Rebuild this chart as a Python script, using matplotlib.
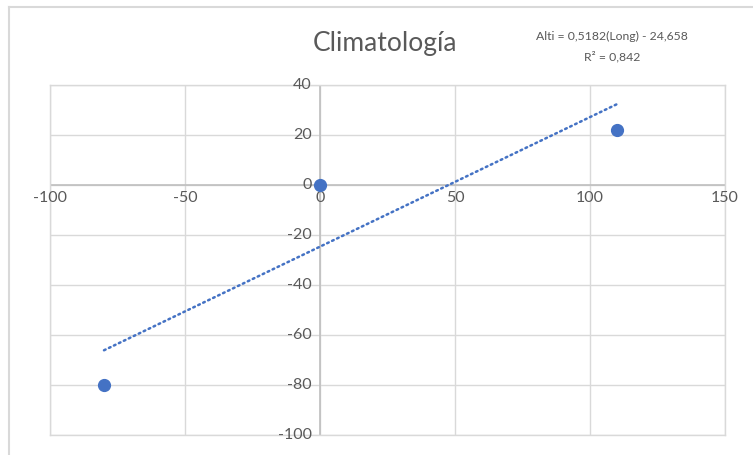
import numpy as np
import matplotlib.pyplot as plt
from matplotlib.lines import Line2D

# datos
longitud = [-80, 0, 110]
altitud = [-80, 0, 22]
pendiente = 0.5182
intercepto = -24.658
x_ticks = [-100, -50, 0, 50, 100, 150]
y_ticks = [-100, -80, -60, -40, -20, 0, 20, 40]

plt.rcParams['font.family'] = ['Lato', 'DejaVu Sans']

fig = plt.figure(figsize=(7.53, 4.55), dpi=100)
ax = fig.add_axes([50 / 753, 1 - 435 / 455, 675 / 753, 350 / 455])

azul = '#4472C4'
gris = '#595959'

# linea de tendencia
xt = np.array([min(longitud), max(longitud)])
ax.plot(xt, pendiente * xt + intercepto, color=azul, lw=1.8,
        linestyle=(0, (0.7, 1.5)), dash_capstyle='round', zorder=3)
ax.plot(longitud, altitud, 'o', color=azul, markersize=8.5, zorder=4)

ax.set_xlim(-100, 150)
ax.set_ylim(-100, 40)
ax.set_xticks(x_ticks)
ax.set_yticks(y_ticks)
ax.grid(True, color='#d9d9d9', lw=1)
ax.set_axisbelow(True)

# ejes cruzando en cero
for s in ['top', 'right', 'bottom', 'left']:
    ax.spines[s].set_color('#d9d9d9')
    ax.spines[s].set_linewidth(1)
ax.axhline(0, color='#bfbfbf', lw=1.2, zorder=2)
ax.axvline(0, color='#bfbfbf', lw=1.2, zorder=2)
ax.tick_params(length=0, labelbottom=False, labelleft=False)

for xv in x_ticks:
    ax.text(xv, -2.5, str(xv), ha='center', va='top', fontsize=11.5, color=gris)
for yv in y_ticks:
    ax.text(-3, yv, str(yv), ha='right', va='center', fontsize=11.5, color=gris)

fig.text(385 / 753, 1 - 44 / 455, 'Climatología', ha='center', va='center',
         fontsize=19, color=gris)
fig.text(612 / 753, 1 - 36 / 455, 'Alti = 0,5182(Long) - 24,658', ha='center',
         va='center', fontsize=8.8, color=gris)
fig.text(612 / 753, 1 - 57 / 455, 'R² = 0,842', ha='center', va='center',
         fontsize=8.8, color=gris)

# borde del grafico
fig.add_artist(Line2D([9 / 753, 9 / 753], [0, 1 - 7 / 455], color='#d9d9d9', lw=1.5))
fig.add_artist(Line2D([9 / 753, 1], [1 - 7 / 455, 1 - 7 / 455], color='#d9d9d9', lw=1.5))

fig.savefig('out.png', dpi=100)
